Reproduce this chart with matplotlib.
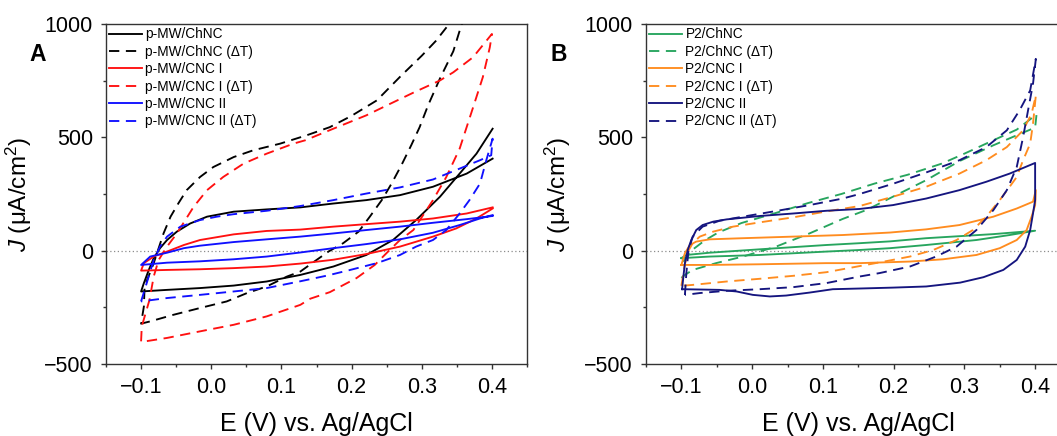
import matplotlib
matplotlib.use("Agg")
import matplotlib.pyplot as plt
from matplotlib.ticker import MultipleLocator

plt.rcParams['font.family'] = 'Liberation Sans'
plt.rcParams['mathtext.fontset'] = 'custom'
plt.rcParams['mathtext.rm'] = 'Liberation Sans'
plt.rcParams['mathtext.it'] = 'Liberation Sans:italic'

# ---- panel A : p-MW films ----
# p-MW/ChNC  (upper branch right->left, then lower branch left->right)
mw_chnc_E = [0.401, 0.364, 0.316, 0.269, 0.221, 0.174, 0.127, 0.079, 0.032, -0.006, -0.03, -0.049, -0.063, -0.073,
             -0.082, -0.089, -0.096, -0.1,
             -0.063, -0.016, 0.032, 0.079, 0.127, 0.174, 0.221, 0.259, 0.292, 0.326, 0.354, 0.378, 0.401]
mw_chnc_J = [406, 340, 282, 245, 223, 208, 191, 182, 172, 150, 120, 84, 47, 11,
             -33, -85, -143, -180,
             -173, -165, -154, -136, -107, -70, -19, 47, 135, 238, 340, 428, 538]

# p-MW/ChNC (dT)
mw_chnc_dt_E = [0.362, 0.357, 0.345, 0.326, 0.309, 0.297, 0.285, 0.271, 0.257, 0.243, 0.226, 0.21, 0.188, 0.167,
                0.146, 0.127, 0.108, 0.079, 0.051, 0.022, -0.016, -0.054, -0.087, -0.1,
                -0.096, -0.095, -0.082, -0.068, -0.058, -0.047, -0.035, -0.016, 0.003, 0.032, 0.06, 0.098, 0.136,
                0.169, 0.2, 0.236, 0.27, 0.3, 0.32, 0.339, 0.345]
mw_chnc_dt_J = [1040, 1000, 880, 760, 641, 545, 465, 377, 296, 223, 150, 84, 33, -4,
                -50, -92, -114, -158, -187, -224, -253, -283, -312, -322,
                -246, -158, -55, 76, 150, 208, 267, 325, 369, 413, 443, 472, 509,
                545, 595, 663, 770, 860, 925, 1000, 1025]

# p-MW/CNC I
mw_cnc1_E = [0.401, 0.364, 0.316, 0.269, 0.221, 0.174, 0.127, 0.079, 0.032, -0.016, -0.039, -0.063, -0.082, -0.096,
             -0.1, -0.063, -0.016, 0.032, 0.079, 0.127, 0.174, 0.221, 0.269, 0.316, 0.349, 0.378, 0.401]
mw_cnc1_J = [191, 164, 142, 128, 117, 106, 93, 87, 72, 47, 25, -4, -26, -55,
             -88, -85, -82, -77, -70, -57, -40, -15, 18, 62, 98, 142, 186]

# p-MW/CNC I (dT)
mw_cnc1_dt_E = [-0.1, -0.099, -0.088, -0.082, -0.075, -0.063, -0.049, -0.037, -0.025, -0.006, 0.017, 0.046, 0.079,
                0.117, 0.134, 0.174, 0.221, 0.255, 0.29, 0.326, 0.345, 0.373, 0.4,
                0.397, 0.387, 0.374, 0.354, 0.335, 0.316, 0.302, 0.288, 0.269, 0.252, 0.233, 0.207, 0.169, 0.141,
                0.127, 0.079, 0.032, -0.016, -0.063, -0.094, -0.1]
mw_cnc1_dt_J = [-400, -334, -217, -114, -41, 18, 76, 135, 194, 267, 325, 384, 428,
                472, 487, 538, 597, 648, 700, 751, 787, 853, 956,
                897, 765, 640, 450, 325, 223, 157, 91, 47, -4, -63, -121, -183, -212,
                -239, -290, -327, -356, -385, -400, -400]

# p-MW/CNC II
mw_cnc2_E = [0.401, 0.364, 0.316, 0.269, 0.221, 0.174, 0.127, 0.079, 0.032, -0.016, -0.039, -0.063, -0.087, -0.1,
             -0.063, -0.016, 0.032, 0.079, 0.127, 0.174, 0.221, 0.269, 0.316, 0.354, 0.383, 0.401]
mw_cnc2_J = [153, 139, 123, 106, 91, 76, 62, 50, 38, 22, 11, -9, -26, -63,
             -53, -47, -38, -26, -8, 11, 29, 50, 79, 113, 142, 157]

# p-MW/CNC II (dT)
mw_cnc2_dt_E = [-0.1, -0.092, -0.082, -0.073, -0.063, -0.044, -0.016, 0.008, 0.032, 0.079, 0.127, 0.174, 0.221,
                0.269, 0.316, 0.354, 0.383, 0.399, 0.401,
                0.392, 0.383, 0.368, 0.354, 0.335, 0.316, 0.292, 0.269, 0.236, 0.198, 0.165, 0.127, 0.079, 0.032,
                -0.016, -0.063, -0.1]
mw_cnc2_dt_J = [-224, -143, -41, 18, 62, 106, 135, 150, 161, 176, 197, 223, 252,
                279, 314, 362, 399, 421, 494,
                399, 296, 223, 164, 91, 47, 18, -19, -55, -85, -110, -135, -165, -180,
                -195, -209, -224]

# ---- panel B : P2 films ----
p2_chnc_E = [-0.1, -0.06, 0.011, 0.105, 0.152, 0.195, 0.246, 0.317, 0.364, 0.4,
             0.341, 0.246, 0.195, 0.152, 0.105, 0.011, -0.06, -0.093, -0.1]
p2_chnc_J = [-33, -26, -19, -4, 3, 11, 25, 47, 69, 88,
             73, 55, 41, 33, 25, 6, -9, -19, -33]

p2_chnc_dt_E = [-0.1, -0.095, -0.084, -0.051, -0.013, 0.034, 0.081, 0.128, 0.162, 0.199, 0.246, 0.293, 0.341,
                0.374, 0.4, 0.402,
                0.374, 0.341, 0.3, 0.268, 0.22, 0.173, 0.126, 0.079, 0.032, -0.015, -0.048, -0.067, -0.086,
                -0.095, -0.1]
p2_chnc_dt_J = [-120, -107, -85, -55, -26, 18, 76, 140, 180, 238, 311, 395, 465,
                509, 543, 601,
                534, 487, 428, 384, 335, 296, 250, 210, 165, 122, 80, 45, 0,
                -41, -55]

p2_cnc1_E = [-0.1, -0.095, -0.088, -0.079, -0.06, -0.013, 0.058, 0.128, 0.195, 0.246, 0.293, 0.341, 0.374, 0.397,
             0.401, 0.4, 0.395, 0.388, 0.374, 0.35, 0.317, 0.27, 0.223, 0.152, 0.105, 0.011, -0.06, -0.1]
p2_cnc1_J = [-63, -11, 25, 40, 50, 55, 62, 69, 80, 94, 113, 150, 186, 216,
             267, 200, 150, 91, 47, 11, -19, -38, -48, -55, -55, -60, -63, -63]

p2_cnc1_dt_E = [-0.1, -0.095, -0.09, -0.084, -0.074, -0.055, -0.027, 0.011, 0.058, 0.103, 0.152, 0.199, 0.246,
                0.293, 0.331, 0.36, 0.383, 0.395, 0.401,
                0.397, 0.393, 0.383, 0.374, 0.364, 0.35, 0.331, 0.312, 0.289, 0.256, 0.223, 0.19, 0.152, 0.105,
                0.058, 0.011, -0.036, -0.084, -0.1]
p2_cnc1_dt_J = [-155, -60, 0, 33, 62, 84, 106, 125, 147, 172, 197, 238, 282,
                340, 399, 457, 531, 604, 685,
                560, 472, 399, 325, 282, 223, 150, 91, 47, 3, -26, -46, -68, -95,
                -111, -124, -136, -151, -155]

p2_cnc2_E = [-0.099, -0.097, -0.095, -0.091, -0.086, -0.079, -0.07, -0.055, -0.036, 0.011, 0.058, 0.105, 0.152,
             0.199, 0.246, 0.293, 0.331, 0.364, 0.4,
             0.4, 0.397, 0.393, 0.386, 0.374, 0.355, 0.327, 0.294, 0.246, 0.199, 0.152, 0.114, 0.081, 0.048,
             0.025, 0.001, -0.022, -0.046, -0.099]
p2_cnc2_J = [-170, -110, -55, 3, 47, 91, 113, 128, 138, 153, 164, 176, 184,
             201, 230, 267, 304, 340, 387,
             223, 164, 91, 18, -41, -85, -117, -141, -158, -163, -167, -170, -185, -198,
             -202, -195, -180, -173, -170]

p2_cnc2_dt_E = [-0.095, -0.093, -0.09, -0.084, -0.07, -0.046, -0.013, 0.034, 0.081, 0.128, 0.152, 0.199, 0.246,
                0.293, 0.331, 0.36, 0.378, 0.393, 0.401,
                0.397, 0.39, 0.383, 0.374, 0.36, 0.341, 0.317, 0.289, 0.26, 0.223, 0.18, 0.152, 0.105, 0.058,
                0.011, -0.036, -0.074, -0.095]
p2_cnc2_dt_J = [-195, -100, 0, 62, 106, 132, 150, 175, 201, 230, 250, 295, 345,
                399, 457, 531, 619, 707, 846,
                736, 619, 501, 369, 267, 179, 91, 18, -26, -70, -99, -114, -143, -161,
                -170, -177, -187, -195]

panel_a = [
    (mw_chnc_E, mw_chnc_J, 'black', '-', 'p-MW/ChNC'),
    (mw_chnc_dt_E, mw_chnc_dt_J, 'black', '--', 'p-MW/ChNC (\u0394T)'),
    (mw_cnc1_E, mw_cnc1_J, '#ff1010', '-', 'p-MW/CNC I'),
    (mw_cnc1_dt_E, mw_cnc1_dt_J, '#ff1010', '--', 'p-MW/CNC I (\u0394T)'),
    (mw_cnc2_E, mw_cnc2_J, '#1010ff', '-', 'p-MW/CNC II'),
    (mw_cnc2_dt_E, mw_cnc2_dt_J, '#1010ff', '--', 'p-MW/CNC II (\u0394T)'),
]
panel_b = [
    (p2_chnc_E, p2_chnc_J, '#27a55e', '-', 'P2/ChNC'),
    (p2_chnc_dt_E, p2_chnc_dt_J, '#27a55e', '--', 'P2/ChNC (\u0394T)'),
    (p2_cnc1_E, p2_cnc1_J, '#ff8c1f', '-', 'P2/CNC I'),
    (p2_cnc1_dt_E, p2_cnc1_dt_J, '#ff8c1f', '--', 'P2/CNC I (\u0394T)'),
    (p2_cnc2_E, p2_cnc2_J, '#15157f', '-', 'P2/CNC II'),
    (p2_cnc2_dt_E, p2_cnc2_dt_J, '#15157f', '--', 'P2/CNC II (\u0394T)'),
]

W, H = 1057, 436
fig = plt.figure(figsize=(W / 100, H / 100), dpi=100)
axA = fig.add_axes([106 / W, (H - 364) / H, 421 / W, 340 / H])
axB = fig.add_axes([646 / W, (H - 364) / H, 424.5 / W, 340 / H])


def draw(ax, curves, letter, letter_x):
    ax.axhline(0, color='#8c8c8c', lw=0.9, ls=(0, (1, 2)), zorder=1)
    for E, J, c, ls, lab in curves:
        if ls == '--':
            ax.plot(E, J, color=c, lw=1.35, dashes=(5.5, 3.5), label=lab, zorder=3)
        else:
            ax.plot(E, J, color=c, lw=1.35, label=lab, zorder=3)
    ax.set_xlim(-0.15, 0.45)
    ax.set_ylim(-500, 1000)
    ax.xaxis.set_minor_locator(MultipleLocator(0.05))
    ax.yaxis.set_major_locator(MultipleLocator(500))
    ax.yaxis.set_minor_locator(MultipleLocator(250))
    ax.set_xticks([-0.1, 0.0, 0.1, 0.2, 0.3, 0.4])
    ax.set_xticklabels(['\u22120.1', '0.0', '0.1', '0.2', '0.3', '0.4'])
    ax.tick_params(which='major', direction='out', length=3.5, width=1, labelsize=15.5, pad=6, color='#333333')
    ax.tick_params(which='minor', direction='out', length=2.5, width=1, color='#333333')
    ax.tick_params(top=False, right=False)
    for s in ax.spines.values():
        s.set_color('#333333')
        s.set_linewidth(1.0)
    ax.set_xlabel('E (V) vs. Ag/AgCl', fontsize=18)
    ax.set_ylabel('$J$ (\u03bcA/cm$^2$)', fontsize=17.5)
    ax.xaxis.set_label_coords(0.5, -0.14)
    ax.yaxis.set_label_coords(-0.172, 0.5)
    ax.legend(loc='upper left', bbox_to_anchor=(0.0, 1.0), frameon=False, fontsize=9.8,
              handlelength=2.4, handletextpad=0.25, labelspacing=0.25, borderpad=0.25, borderaxespad=0)
    fig.text(letter_x / W, 1 - 61 / H, letter, fontsize=16.5, fontweight='bold', va='baseline', ha='left')


draw(axA, panel_a, 'A', 29)
draw(axB, panel_b, 'B', 550)

fig.savefig('out.png', dpi=100)
